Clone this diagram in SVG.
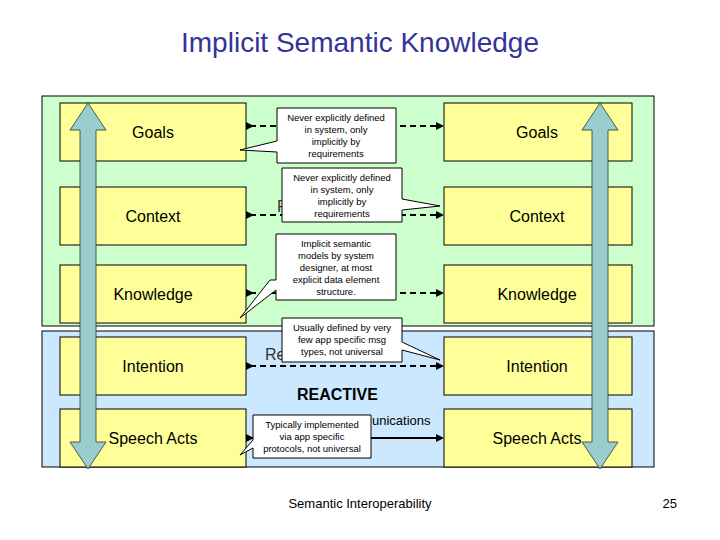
<svg xmlns="http://www.w3.org/2000/svg" width="720" height="540" viewBox="0 0 720 540">
<defs>
<marker id="d" viewBox="0 0 10 10" refX="5" refY="5" markerWidth="4" markerHeight="4" orient="auto"><path d="M0,0L10,5L0,10z" fill="#000"/></marker>
<style>
text{font-family:"Liberation Sans",Arial,sans-serif}
.box{fill:#ffff99;stroke:#000;stroke-width:1}
.lbl{font-size:16px;text-anchor:middle}
.co{fill:#fff;stroke:#000;stroke-width:1}
.ct{font-size:9.5px;text-anchor:middle}
.dl{stroke:#000;stroke-width:2;stroke-dasharray:6,4;fill:none}
</style>
</defs>
<rect width="720" height="540" fill="#fff"/>
<text x="360" y="52" font-size="28" fill="#333399" text-anchor="middle">Implicit Semantic Knowledge</text>
<rect x="42" y="96" width="612" height="230" fill="#ccffcc" stroke="#000"/>
<rect x="42" y="331" width="612" height="136" fill="#cce8ff" stroke="#000"/>
<text x="277" y="212" font-size="16" fill="#333">P</text>
<text x="265" y="360" font-size="16" fill="#333">Re</text>
<text x="297" y="400" font-size="16" font-weight="bold">REACTIVE</text>
<text x="372" y="425" font-size="13">unications</text>
<g id="connectors">
<line class="dl" x1="250" y1="126" x2="440" y2="126" marker-start="url(#d)" marker-end="url(#d)"/>
<line class="dl" x1="250" y1="215" x2="440" y2="215" marker-start="url(#d)" marker-end="url(#d)"/>
<line class="dl" x1="250" y1="293" x2="440" y2="293" marker-start="url(#d)" marker-end="url(#d)"/>
<line class="dl" x1="250" y1="366" x2="440" y2="366" marker-start="url(#d)" marker-end="url(#d)"/>
<line stroke="#000" stroke-width="2" x1="250" y1="438" x2="440" y2="438" marker-start="url(#d)" marker-end="url(#d)"/>
</g>
<g id="goalsL"><rect class="box" x="60" y="103" width="186" height="58"/><text class="lbl" x="153" y="138">Goals</text></g>
<g id="contextL"><rect class="box" x="60" y="187" width="186" height="58"/><text class="lbl" x="153" y="222">Context</text></g>
<g id="knowledgeL"><rect class="box" x="60" y="265" width="186" height="58"/><text class="lbl" x="153" y="300">Knowledge</text></g>
<g id="intentionL"><rect class="box" x="60" y="337" width="186" height="58"/><text class="lbl" x="153" y="372">Intention</text></g>
<g id="speechL"><rect class="box" x="60" y="409" width="186" height="58"/><text class="lbl" x="153" y="444">Speech Acts</text></g>
<g id="goalsR"><rect class="box" x="444" y="103" width="188" height="58"/><text class="lbl" x="537" y="138">Goals</text></g>
<g id="contextR"><rect class="box" x="444" y="187" width="188" height="58"/><text class="lbl" x="537" y="222">Context</text></g>
<g id="knowledgeR"><rect class="box" x="444" y="265" width="188" height="58"/><text class="lbl" x="537" y="300">Knowledge</text></g>
<g id="intentionR"><rect class="box" x="444" y="337" width="188" height="58"/><text class="lbl" x="537" y="372">Intention</text></g>
<g id="speechR"><rect class="box" x="444" y="409" width="188" height="58"/><text class="lbl" x="537" y="444">Speech Acts</text></g>
<g id="arrowL"><path d="M88,103 L106,130 L96,130 L96,442 L106,442 L88,469 L70,442 L80,442 L80,130 L70,130 Z" fill="#99cccc" stroke="#333" stroke-width="0.8"/></g>
<g id="arrowR"><path d="M600,103 L618,130 L608,130 L608,442 L618,442 L600,469 L582,442 L592,442 L592,130 L582,130 Z" fill="#99cccc" stroke="#333" stroke-width="0.8"/></g>
<g id="callout1"><path class="co" d="M277,108 H396 V163 H277 V152 L240,150 L277,141 Z"/>
<text class="ct"><tspan x="336" y="121">Never explicitly defined</tspan><tspan x="336" y="133">in system, only</tspan><tspan x="336" y="145">implicitly by</tspan><tspan x="336" y="157">requirements</tspan></text></g>
<g id="callout2"><path class="co" d="M282,168 H402 V199 L440,206 L402,210 V222 H282 Z"/>
<text class="ct"><tspan x="342" y="181">Never explicitly defined</tspan><tspan x="342" y="193">in system, only</tspan><tspan x="342" y="205">implicitly by</tspan><tspan x="342" y="217">requirements</tspan></text></g>
<g id="callout3"><path class="co" d="M276,234 H396 V300 H276 V290 L240,318 L270,280 L276,280 Z"/>
<text class="ct"><tspan x="336" y="247">Implicit semantic</tspan><tspan x="336" y="259">models by system</tspan><tspan x="336" y="271">designer, at most</tspan><tspan x="336" y="283">explicit data element</tspan><tspan x="336" y="295">structure.</tspan></text></g>
<g id="callout4"><path class="co" d="M282,318 H402 V342 L440,360 L402,350 V362 H282 Z"/>
<text class="ct"><tspan x="342" y="331">Usually defined by very</tspan><tspan x="342" y="343">few app specific msg</tspan><tspan x="342" y="355">types, not universal</tspan></text></g>
<g id="callout5"><path class="co" d="M253,415 H371 V458 H253 V448 L240,455 L253,440 Z"/>
<text class="ct"><tspan x="312" y="428">Typically implemented</tspan><tspan x="312" y="440">via app specific</tspan><tspan x="312" y="452">protocols, not universal</tspan></text></g>
<text x="360" y="508" font-size="13" text-anchor="middle">Semantic Interoperability</text>
<text x="677" y="508" font-size="13" text-anchor="end">25</text>
</svg>
